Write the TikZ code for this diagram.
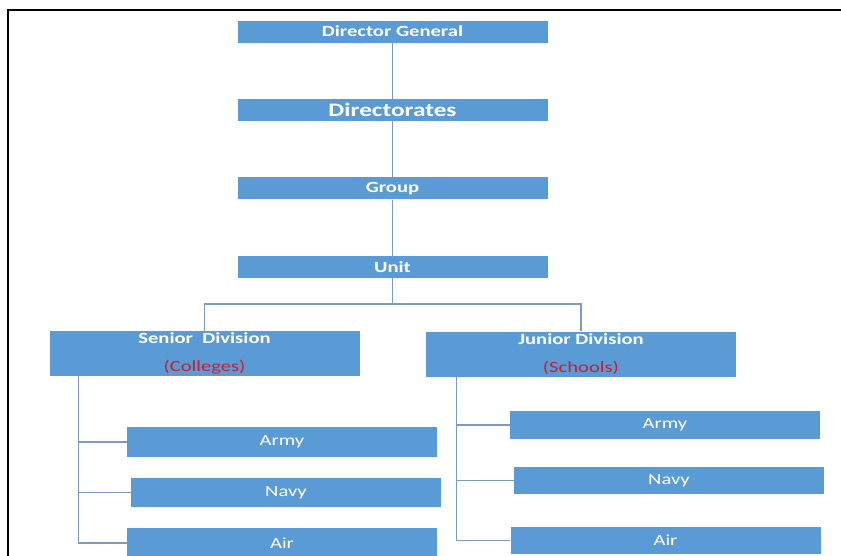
\documentclass[tikz,border=0pt]{standalone}
\usepackage{fontspec}
\setmainfont[FakeStretch=1.33]{Carlito}
\usetikzlibrary{positioning}
\definecolor{boxblue}{RGB}{91,155,213}
\definecolor{linkblue}{RGB}{125,155,190}
\definecolor{redtext}{RGB}{200,30,50}
\tikzstyle{block} = [rectangle, fill=boxblue, text=white, inner sep=0pt,
    minimum width=310pt, minimum height=22pt, font=\fontsize{15.5}{19}\selectfont]
\tikzstyle{head} = [block, font=\fontsize{15.5}{19}\selectfont\bfseries]
\tikzstyle{division} = [head, align=center, minimum height=45pt]
\tikzstyle{line} = [draw=linkblue, line width=1.2pt]

\begin{document}
\begin{tikzpicture}[x=1pt,y=-1pt]
    \useasboundingbox (0,0) rectangle (841,555);
    % Frame
    \draw[line width=2pt] (8,556) -- (8,10) -- (842,10);
    % Place nodes
    \node[head] (dg) at (392.5,31.5) {Director General};
    \node[head, below=56pt of dg, font=\fontsize{19}{22}\selectfont\bfseries] (dirs) {Directorates};
    \node[head, below=56pt of dirs] (group) {Group};
    \node[head, below=56pt of group] (unit) {Unit};
    \coordinate (split) at (392.5,304);
    \node[division] (senior) at (204.5,353.5) {Senior\ \ Division\\[9pt]\textcolor{redtext}{\mdseries(Colleges)}};
    \node[division] (junior) at (581,354) {Junior Division\\[9pt]\textcolor{redtext}{\mdseries(Schools)}};
    \node[block, minimum height=30pt] (sarmy) at (282,442) {Army};
    \node[block, minimum height=29pt] (snavy) at (286,492.5) {Navy};
    \node[block, minimum height=30pt] (sair) at (282,543) {Air};
    \node[block, minimum height=28pt] (jarmy) at (665,425) {Army};
    \node[block, minimum height=27pt] (jnavy) at (669,480.5) {Navy};
    \node[block, minimum height=27pt] (jair) at (665.5,540.5) {Air};
    % Draw edges
    \path [line] (dg.south) -- (dirs.north);
    \path [line] (dirs.south) -- (group.north);
    \path [line] (group.south) -- (unit.north);
    \path [line] (unit.south) -- (split);
    \path [line] (split) -| (senior.north);
    \path [line] (split) -| (junior.north);
    \path [line] ([xshift=29pt]senior.south west) |- (sarmy.west);
    \path [line] ([xshift=29pt]senior.south west) |- (snavy.west);
    \path [line] ([xshift=29pt]senior.south west) |- (sair.west);
    \path [line] ([xshift=31pt]junior.south west) |- (jarmy.west);
    \path [line] ([xshift=31pt]junior.south west) |- (jnavy.west);
    \path [line] ([xshift=31pt]junior.south west) |- (jair.west);
\end{tikzpicture}
\end{document}
